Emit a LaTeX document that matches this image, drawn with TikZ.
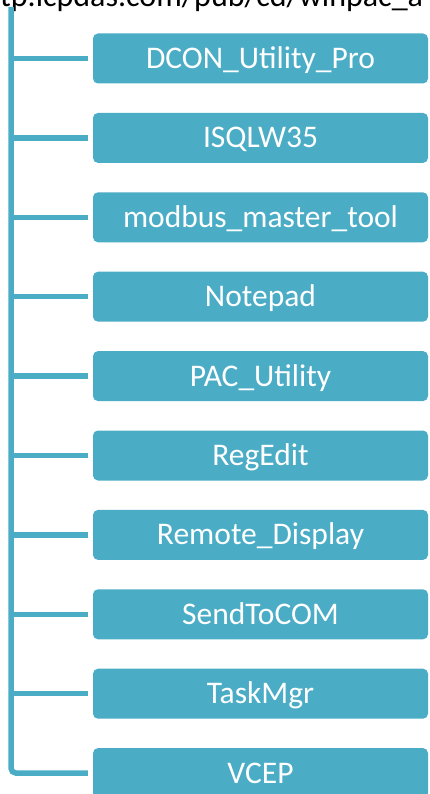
\documentclass[tikz,border=0pt]{standalone}
\usepackage{fontspec}
\setmainfont{Carlito}
\definecolor{tealbox}{HTML}{4BACC6}
\begin{document}
\begin{tikzpicture}[x=1pt,y=-1pt,
  itembox/.style={fill=tealbox, rounded corners=5pt, minimum width=335pt, minimum height=50pt,
    inner sep=0pt, text=white, font=\fontsize{31.5}{36}\selectfont, text height=20pt, text depth=0pt},
  conn/.style={draw=tealbox, line width=5.5pt}]
\useasboundingbox (0,0) rectangle (429,794);
\clip (0,0) rectangle (429,794);
\node[anchor=base west, inner sep=0pt, font=\fontsize{32}{38}\selectfont] (url) at (0,6.5) {tp.icpdas.com/pub/cd/winpac\_a};
\coordinate (top) at (11,7);
\foreach \t [count=\i] in {DCON\_Utility\_Pro, ISQLW35, modbus\_master\_tool, Notepad, PAC\_Utility, RegEdit, Remote\_Display, SendToCOM, TaskMgr, VCEP}
  \node[itembox] (b\i) at (260.5, {58.5+79.4*(\i-1)}) {\t};
\foreach \i in {1,...,9}
  \draw[conn] (top |- b\i.west) -- ([xshift=-5pt]b\i.west);
\draw[conn, rounded corners=5pt] (top) |- ([xshift=-5pt]b10.west);
\end{tikzpicture}
\end{document}
